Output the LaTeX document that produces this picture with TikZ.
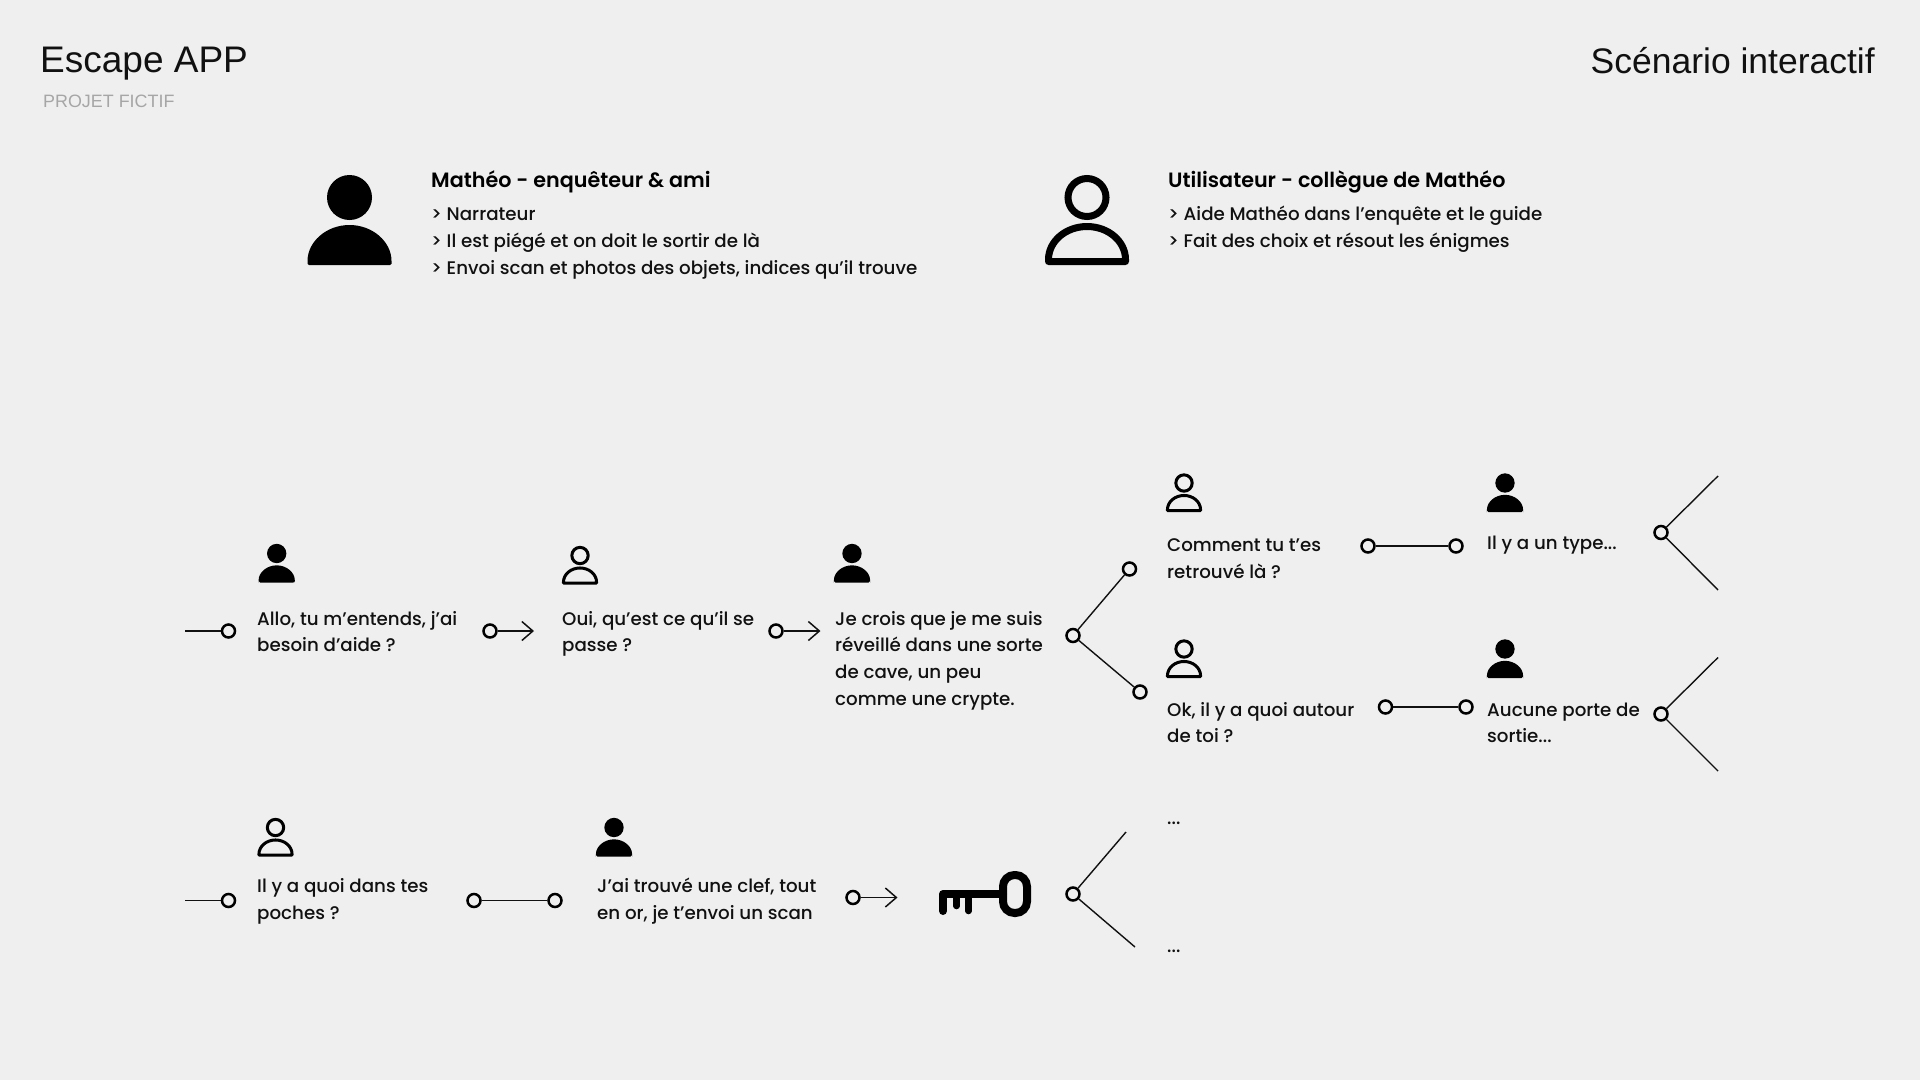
\documentclass[tikz,border=0pt]{standalone}
\usepackage{fontspec}
\setmainfont{Poppins}[UprightFont=* Medium,BoldFont=* SemiBold]
\newfontfamily\titlefont{Liberation Sans}
\usetikzlibrary{arrows.meta}
\definecolor{bgc}{HTML}{EFEFEF}
\definecolor{ink}{HTML}{111111}
\newcommand{\fl}{\rule{0pt}{20pt}}
\newcommand{\PersonFilled}[3]{%
  \begin{scope}[shift={(#1,#2)},scale=#3]
    \fill[black] (0,0) circle (22.5);
    \fill[black,rounded corners=1.5] (-42,67.5) -- (-42,65) arc[x radius=42,y radius=37.5,start angle=180,end angle=360] -- (42,67.5) -- cycle;
  \end{scope}}
\newcommand{\PersonLine}[3]{%
  \begin{scope}[shift={(#1,#2)},scale=#3]
    \draw[black,line width=#3*7pt] (0,0) circle (19);
    \draw[black,line width=#3*7pt,line join=round] (-38.5,64) -- (-38.5,62) arc[x radius=38.5,y radius=33,start angle=180,end angle=360] -- (38.5,64) -- cycle;
  \end{scope}}
\tikzset{
  x=1pt,y=-1pt,
  dot/.style={circle,draw=black,line width=2.5pt,minimum size=13pt,inner sep=0pt,fill=none},
  link/.style={draw=ink,line width=1.4pt},
  arrowlink/.style={link,-{Straight Barb[length=11pt,width=19pt,line width=1.5pt]}},
  say/.style={anchor=north west,inner sep=0pt,align=left,text=ink,font=\fontsize{18.25}{26.6}\selectfont},
  heading/.style={anchor=base west,inner sep=0pt,text=black,font=\fontsize{20.7}{26}\selectfont\bfseries},
}
\begin{document}
\begin{tikzpicture}
\useasboundingbox[fill=bgc] (0,0) rectangle (1920,1080);
% titles
\node[anchor=base west,inner sep=0pt,font=\titlefont\fontsize{37}{40}\selectfont,text=ink] (title) at (40,72) {Escape APP};
\node[anchor=base west,inner sep=0pt,font=\titlefont\fontsize{17.9}{22}\selectfont,text=black!35] (sub) at (43,107) {PROJET FICTIF};
\node[anchor=base east,inner sep=0pt,font=\titlefont\fontsize{35.5}{38}\selectfont,text=ink] (scen) at (1875,73) {Scénario interactif};
% roles
\PersonFilled{349.5}{197.5}{1}
\PersonLine{1087}{197.5}{1}
\node[heading] (mh) at (431,187.2) {Mathéo - enquêteur \& ami};
\node[say] (mt) at (431,200.7) {\fl > Narrateur\\> Il est piégé et on doit le sortir de là\\> Envoi scan et photos des objets, indices qu’il trouve};
\node[heading] (uh) at (1168,187.2) {Utilisateur - collègue de Mathéo};
\node[say] (ut) at (1168,200.7) {\fl > Aide Mathéo dans l’enquête et le guide\\> Fait des choix et résout les énigmes};
% row 1
\PersonFilled{276.7}{553.5}{0.43}
\PersonLine{580}{555.5}{0.43}
\PersonFilled{852}{553.5}{0.43}
\node[say] (t1) at (257,605) {\fl Allo, tu m’entends, j’ai\\besoin d’aide ?};
\node[say] (t2) at (562,605) {\fl Oui, qu’est ce qu’il se\\passe ?};
\node[say] (t3) at (835,605) {\fl Je crois que je me suis\\réveillé dans une sorte\\de cave, un peu\\comme une crypte.};
\coordinate (s1) at (185,631);
\node[dot] (d1) at (228.5,631) {};
\draw[link] (s1) -- (d1);
\node[dot] (d2) at (490,631) {};
\coordinate (a2) at (534,631);
\draw[arrowlink] (d2) -- (a2);
\node[dot] (d3) at (776,631) {};
\coordinate (a3) at (820.5,631);
\draw[arrowlink] (d3) -- (a3);
\node[dot] (b1) at (1073,635.5) {};
\node[dot] (b1a) at (1129.5,569) {};
\node[dot] (b1b) at (1140,692) {};
\draw[link] (b1) -- (b1a);
\draw[link] (b1) -- (b1b);
% upper branch
\PersonLine{1184}{483}{0.43}
\PersonFilled{1505}{483}{0.43}
\node[say] (t4) at (1167,531.7) {\fl Comment tu t’es\\retrouvé là ?};
\node[say] (t5) at (1487,529) {\fl Il y a un type...};
\node[dot] (e1) at (1368,546) {};
\node[dot] (e2) at (1456,546) {};
\draw[link] (e1) -- (e2);
\node[dot] (c1) at (1661,532.5) {};
\coordinate (c1a) at (1718,476);
\coordinate (c1b) at (1718,590);
\draw[link] (c1) -- (c1a);
\draw[link] (c1) -- (c1b);
% lower branch
\PersonLine{1184}{649}{0.43}
\PersonFilled{1505}{649}{0.43}
\node[say] (t6) at (1167,696) {\fl Ok, il y a quoi autour\\de toi ?};
\node[say] (t7) at (1487,696) {\fl Aucune porte de\\sortie...};
\node[dot] (f1) at (1385.5,707) {};
\node[dot] (f2) at (1466,707) {};
\draw[link] (f1) -- (f2);
\node[dot] (c2) at (1661,714) {};
\coordinate (c2a) at (1718,657.5);
\coordinate (c2b) at (1718,771);
\draw[link] (c2) -- (c2a);
\draw[link] (c2) -- (c2b);
% row 3
\PersonLine{275.5}{827.5}{0.43}
\PersonFilled{614}{827.5}{0.43}
\node[say] (t8) at (257,872.5) {\fl Il y a quoi dans tes\\poches ?};
\node[say] (t9) at (597,872.5) {\fl J’ai trouvé une clef, tout\\en or, je t’envoi un scan};
\coordinate (s3) at (185,900.5);
\node[dot] (g1) at (228.5,900.5) {};
\draw[link] (s3) -- (g1);
\node[dot] (g2) at (474,900.5) {};
\node[dot] (g3) at (555,900.5) {};
\draw[link] (g2) -- (g3);
\node[dot] (g4) at (853,897.5) {};
\coordinate (a4) at (897.5,897.5);
\draw[arrowlink] (g4) -- (a4);
% key
\draw[black,line width=8pt,line cap=round,line join=round] (943,911) -- (943,894) -- (1003,894);
\draw[black,line width=6.5pt,line cap=round] (956.5,894) -- (956.5,906);
\draw[black,line width=6.5pt,line cap=round] (968.5,894) -- (968.5,911);
\draw[black,line width=8pt,rounded corners=11.5pt] (1003,875) rectangle (1027,913);
\node[dot] (b3) at (1073,894) {};
\coordinate (b3a) at (1126,832);
\coordinate (b3b) at (1135,947);
\draw[link] (b3) -- (b3a);
\draw[link] (b3) -- (b3b);
\node[say] (q1) at (1167,804) {\fl ...};
\node[say] (q2) at (1167,932) {\fl ...};
\end{tikzpicture}
\end{document}
